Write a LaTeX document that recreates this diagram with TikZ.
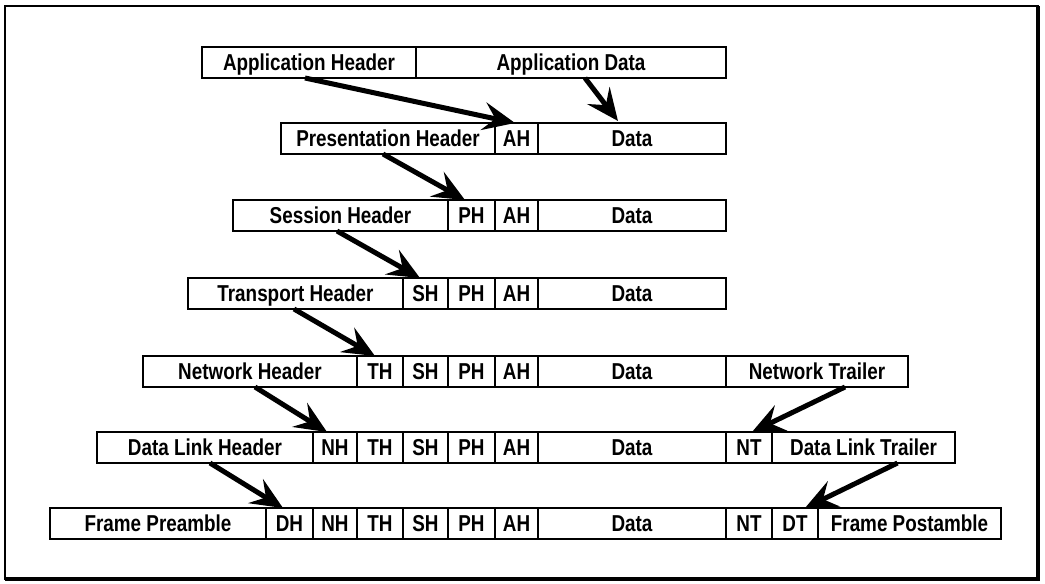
\documentclass[tikz,border=0pt]{standalone}
\usepackage{fontspec}
\newfontfamily\cellfont{Liberation Sans}[FakeStretch=0.82]
\usetikzlibrary{arrows.meta}

\begin{document}
\begin{tikzpicture}[x=1pt,y=-1pt,
  cell/.style={draw, line width=2pt, rectangle, anchor=north west,
    minimum height=31pt, inner sep=0pt, outer sep=0pt,
    text height=16.5pt, text depth=0pt,
    font=\cellfont\bfseries\fontsize{23}{23}\selectfont},
  w/.style={minimum width=#1pt},
  flow/.style={line width=5pt, -{Stealth[length=32pt,width=28pt,inset=12pt]}}]

\useasboundingbox (0,0) rectangle (1045,584);

% outer frame
\draw[line width=2pt] (5,6) rectangle (1038,579);
\draw[line width=3.5pt] (1038,6) -- (1038,579) -- (5,579);

% application layer
\node[cell,w=214] (apH) at (202,47) {Application Header};
\node[cell,w=310] (apD) at (416,47) {Application Data};

% presentation layer
\node[cell,w=214] (r2h)  at (281,123) {Presentation Header};
\node[cell,w=43]  (r2ah) at (495,123) {AH};
\node[cell,w=188] (r2d)  at (538,123) {Data};

% session layer
\node[cell,w=215] (r3h)  at (233,200) {Session Header};
\node[cell,w=47]  (r3ph) at (448,200) {PH};
\node[cell,w=43]  (r3ah) at (495,200) {AH};
\node[cell,w=188] (r3d)  at (538,200) {Data};

% transport layer
\node[cell,w=215] (r4h)  at (188,278) {Transport Header};
\node[cell,w=45]  (r4sh) at (403,278) {SH};
\node[cell,w=47]  (r4ph) at (448,278) {PH};
\node[cell,w=43]  (r4ah) at (495,278) {AH};
\node[cell,w=188] (r4d)  at (538,278) {Data};

% network layer
\node[cell,w=214] (r5h)  at (143,356) {Network Header};
\node[cell,w=46]  (r5th) at (357,356) {TH};
\node[cell,w=45]  (r5sh) at (403,356) {SH};
\node[cell,w=47]  (r5ph) at (448,356) {PH};
\node[cell,w=43]  (r5ah) at (495,356) {AH};
\node[cell,w=188] (r5d)  at (538,356) {Data};
\node[cell,w=182] (r5nt) at (726,356) {Network Trailer};

% data link layer
\node[cell,w=216] (r6h)   at (97,432)  {Data Link Header};
\node[cell,w=44]  (r6nh)  at (313,432) {NH};
\node[cell,w=46]  (r6th)  at (357,432) {TH};
\node[cell,w=45]  (r6sh)  at (403,432) {SH};
\node[cell,w=47]  (r6ph)  at (448,432) {PH};
\node[cell,w=43]  (r6ah)  at (495,432) {AH};
\node[cell,w=188] (r6d)   at (538,432) {Data};
\node[cell,w=46]  (r6nt)  at (726,432) {NT};
\node[cell,w=183] (r6dlt) at (772,432) {Data Link Trailer};

% physical frame
\node[cell,w=216] (r7h)  at (50,508)  {Frame Preamble};
\node[cell,w=47]  (r7dh) at (266,508) {DH};
\node[cell,w=44]  (r7nh) at (313,508) {NH};
\node[cell,w=46]  (r7th) at (357,508) {TH};
\node[cell,w=45]  (r7sh) at (403,508) {SH};
\node[cell,w=47]  (r7ph) at (448,508) {PH};
\node[cell,w=43]  (r7ah) at (495,508) {AH};
\node[cell,w=188] (r7d)  at (538,508) {Data};
\node[cell,w=46]  (r7nt) at (726,508) {NT};
\node[cell,w=46]  (r7dt) at (772,508) {DT};
\node[cell,w=183] (r7fp) at (818,508) {Frame Postamble};

% encapsulation arrows
\draw[flow] ([xshift=-4pt]apH.south)   -- ([xshift=-1.5pt]r2ah.north);
\draw[flow] ([xshift=14pt]apD.south)   -- ([xshift=-14pt,yshift=2pt]r2d.north);
\draw[flow] ([xshift=-5pt]r2h.south)   -- ([xshift=-6.5pt]r3ph.north);
\draw[flow] ([xshift=-3.5pt]r3h.south) -- ([xshift=-5.5pt]r4sh.north);
\draw[flow] ([xshift=-1.5pt]r4h.south) -- ([xshift=-5pt]r5th.north);
\draw[flow] ([xshift=5pt]r5h.south)    -- ([xshift=-8pt]r6nh.north);
\draw[flow] ([xshift=28pt]r5nt.south)  -- ([xshift=3pt]r6nt.north);
\draw[flow] ([xshift=5pt]r6h.south)    -- ([xshift=-6.5pt]r7dh.north);
\draw[flow] ([xshift=34pt]r6dlt.south) -- ([xshift=10pt]r7dt.north);
\end{tikzpicture}
\end{document}
